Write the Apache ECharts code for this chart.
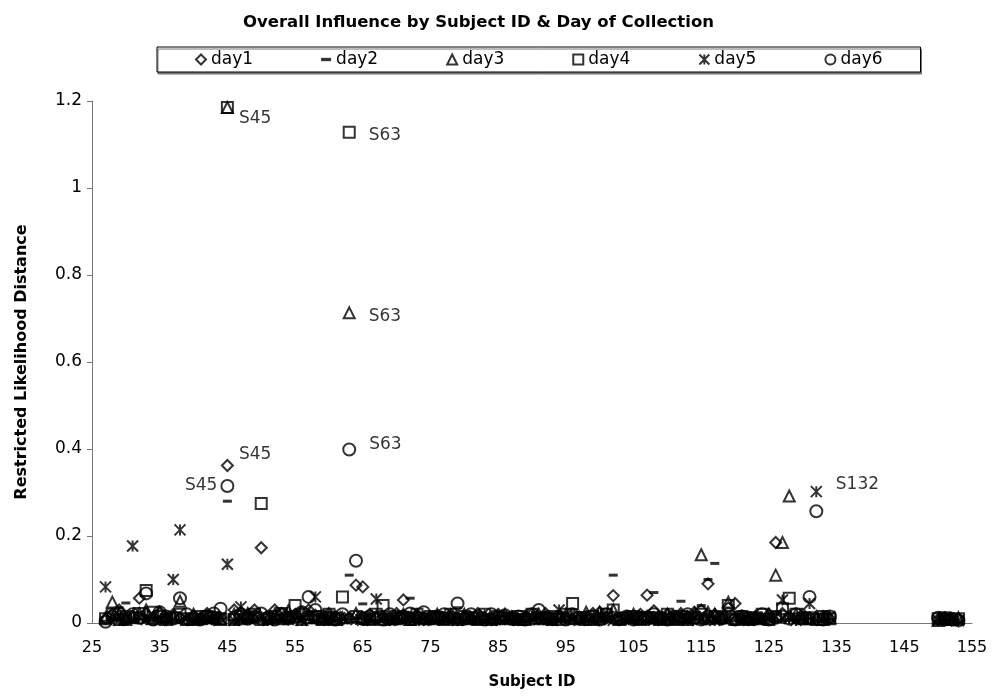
<!DOCTYPE html>
<html>
<head>
<meta charset="utf-8">
<script src="https://cdn.jsdelivr.net/npm/echarts@6/dist/echarts.min.js"></script>
<style>
  html, body { margin: 0; padding: 0; background: #fff; }
  #chart { width: 993px; height: 698px; }
</style>
</head>
<body>
<div id="chart"></div>
<script>
// subject ids on the x axis
const ids = [
  27, 28, 29, 30, 31, 32, 33, 34, 35, 36,
  37, 38, 39, 40, 41, 42, 43, 44, 45, 46,
  47, 48, 49, 50, 51, 52, 53, 54, 55, 56,
  57, 58, 59, 60, 61, 62, 63, 64, 65, 66,
  67, 68, 69, 70, 71, 72, 73, 74, 75, 76,
  77, 78, 79, 80, 81, 82, 83, 84, 85, 86,
  87, 88, 89, 90, 91, 92, 93, 94, 95, 96,
  97, 98, 99, 100, 101, 102, 103, 104, 105, 106,
  107, 108, 109, 110, 111, 112, 113, 114, 115, 116,
  117, 118, 119, 120, 121, 122, 123, 124, 125, 126,
  127, 128, 129, 130, 131, 132, 133, 134,
  150, 151, 152, 153
];

// restricted likelihood distance, one value per subject id
const day1 = [
  .01, .02, .03, .01, .015, .057, .022, .012, .025, .008,
  .02, .012, .008, .015, .01, .022, .008, .012, .362, .03,
  .025, .018, .03, .173, .015, .03, .022, .012, .02, .025,
  .03, .018, .01, .022, .015, .008, .012, .087, .083, .02,
  .01, .015, .008, .022, .053, .012, .02, .008, .015, .01,
  .012, .02, .008, .015, .01, .022, .012, .008, .02, .01,
  .015, .008, .012, .02, .01, .022, .008, .015, .012, .02,
  .01, .015, .022, .025, .012, .063, .008, .015, .01, .02,
  .064, .028, .012, .02, .01, .022, .015, .025, .03, .09,
  .02, .01, .035, .045, .012, .008, .015, .01, .02, .185,
  .022, .015, .01, .02, .012, .008, .015, .01,
  .008, .012, .006, .01
];
const day2 = [
  .004, .008, .035, .046, .006, .01, .004, .008, .012, .005,
  .006, .004, .01, .005, .008, .004, .006, .01, .28, .005,
  .008, .004, .006, .01, .005, .008, .004, .006, .01, .005,
  .008, .004, .012, .006, .005, .008, .11, .01, .044, .006,
  .004, .008, .006, .01, .005, .057, .004, .008, .006, .005,
  .008, .004, .035, .006, .005, .01, .004, .008, .006, .005,
  .004, .008, .006, .005, .01, .004, .008, .006, .005, .01,
  .006, .004, .008, .005, .01, .11, .004, .006, .008, .005,
  .006, .07, .004, .008, .005, .05, .006, .01, .04, .1,
  .137, .006, .01, .005, .008, .004, .006, .005, .01, .004,
  .006, .008, .004, .005, .01, .006, .004, .008,
  .005, .004, .006, .003
];
const day3 = [
  .012, .048, .02, .008, .015, .022, .03, .01, .025, .012,
  .015, .05, .008, .02, .01, .015, .012, .008, 1.185, .02,
  .01, .022, .015, .008, .012, .02, .01, .028, .015, .008,
  .02, .012, .01, .015, .008, .012, .713, .022, .012, .01,
  .015, .008, .012, .01, .02, .008, .015, .012, .01, .02,
  .008, .015, .012, .02, .01, .008, .015, .012, .01, .02,
  .012, .008, .015, .01, .02, .012, .008, .015, .02, .01,
  .012, .025, .008, .025, .015, .03, .01, .012, .02, .008,
  .015, .012, .01, .02, .008, .015, .012, .022, .157, .025,
  .02, .012, .048, .01, .015, .008, .012, .01, .02, .11,
  .185, .292, .02, .012, .01, .015, .008, .012,
  .006, .01, .008, .012
];
const day4 = [
  .01, .02, .008, .015, .012, .022, .075, .025, .015, .008,
  .012, .02, .01, .008, .015, .015, .012, .01, 1.185, .008,
  .015, .012, .02, .275, .01, .015, .022, .012, .04, .02,
  .012, .015, .008, .02, .01, .06, 1.128, .015, .012, .008,
  .02, .04, .01, .015, .012, .008, .02, .01, .015, .012,
  .01, .02, .008, .015, .012, .01, .02, .008, .015, .012,
  .01, .015, .008, .02, .012, .01, .015, .008, .02, .045,
  .012, .008, .015, .01, .02, .03, .008, .012, .015, .01,
  .012, .012, .008, .02, .01, .015, .008, .012, .02, .01,
  .015, .012, .04, .008, .015, .01, .012, .02, .008, .015,
  .033, .057, .02, .01, .012, .008, .015, .01,
  .01, .012, .008, .01
];
const day5 = [
  .083, .015, .006, .01, .177, .012, .008, .015, .006, .01,
  .1, .214, .01, .006, .012, .008, .015, .01, .135, .006,
  .037, .012, .008, .015, .006, .01, .012, .008, .015, .006,
  .012, .06, .008, .006, .015, .01, .012, .008, .006, .01,
  .055, .012, .006, .01, .015, .008, .012, .006, .01, .015,
  .008, .012, .006, .01, .015, .008, .012, .006, .01, .008,
  .012, .006, .01, .015, .008, .012, .006, .03, .01, .008,
  .006, .012, .01, .008, .015, .006, .01, .012, .008, .015,
  .01, .006, .012, .008, .015, .01, .006, .012, .008, .01,
  .006, .012, .01, .015, .008, .006, .012, .01, .008, .015,
  .053, .01, .006, .012, .045, .302, .012, .015,
  .006, .01, .008, .005
];
const day6 = [
  .003, .015, .022, .01, .02, .012, .068, .008, .025, .015,
  .01, .057, .02, .012, .008, .015, .022, .033, .315, .012,
  .02, .01, .015, .022, .012, .008, .02, .01, .015, .025,
  .06, .03, .015, .012, .008, .02, .399, .143, .01, .015,
  .012, .008, .02, .01, .015, .022, .012, .025, .01, .015,
  .02, .012, .045, .01, .02, .015, .008, .02, .012, .018,
  .01, .015, .008, .02, .03, .012, .01, .015, .008, .02,
  .012, .01, .015, .008, .02, .012, .01, .015, .008, .012,
  .01, .02, .012, .008, .015, .01, .02, .012, .008, .015,
  .012, .01, .02, .008, .015, .012, .01, .02, .008, .012,
  .015, .01, .02, .012, .06, .257, .008, .015,
  .012, .008, .01, .006
];

const dayNames = ['day1', 'day2', 'day3', 'day4', 'day5', 'day6'];
const dayValues = [day1, day2, day3, day4, day5, day6];

// subject labels: [day index, subject id, text]
const notes = [
  [3, 45, 'S45'],
  [3, 63, 'S63'],
  [2, 63, 'S63'],
  [5, 63, 'S63'],
  [0, 45, 'S45'],
  [5, 45, 'S45'],
  [4, 132, 'S132']
];
const noteStyle = [
  { position: 'right', distance: 5, offset: [0, 11] },
  { position: 'right', distance: 13, offset: [0, 3] },
  { position: 'right', distance: 13, offset: [0, 4] },
  { position: 'right', distance: 13, offset: [0, -5] },
  { position: 'right', distance: 5, offset: [0, -11] },
  { position: 'left', distance: 3, offset: [0, 0] },
  { position: 'right', distance: 13, offset: [0, -7] }
];

const symbols = [
  { symbol: 'diamond', size: 11, fill: 'transparent' },
  { symbol: 'rect', size: [9, 3], fill: '#000' },
  { symbol: 'triangle', size: 11, fill: 'transparent' },
  { symbol: 'rect', size: 11, fill: 'transparent' },
  { symbol: 'path://M0,0L10,10M10,0L0,10M5,0L5,10', size: 11, fill: 'transparent' },
  { symbol: 'circle', size: 12, fill: 'transparent' }
];

const font = 'DejaVu Sans';

const series = dayNames.map((name, d) => {
  const data = ids.map((id, i) => [id, dayValues[d][i]]);
  notes.forEach((n, k) => {
    if (n[0] !== d) return;
    const i = ids.indexOf(n[1]);
    data[i] = {
      value: data[i],
      label: Object.assign({
        show: true,
        formatter: n[2],
        color: '#000',
        fontFamily: font,
        fontSize: 17
      }, noteStyle[k])
    };
  });
  return {
    name: name,
    type: 'scatter',
    symbol: symbols[d].symbol,
    symbolSize: symbols[d].size,
    itemStyle: {
      color: symbols[d].fill,
      borderColor: '#000',
      borderWidth: d === 1 ? 0 : 2
    },
    emphasis: { disabled: true },
    data: data
  };
});

const chart = echarts.init(document.getElementById('chart'));
chart.setOption({
  animation: false,
  backgroundColor: '#fff',
  title: {
    text: 'Overall Influence by Subject ID & Day of Collection',
    left: 238,
    top: 9,
    textStyle: { fontFamily: font, fontSize: 16.5, fontWeight: 'bold', color: '#000' }
  },
  legend: {
    left: 157,
    top: 47,
    padding: [4, 38, 4, 38],
    itemGap: 68,
    itemWidth: 10,
    itemHeight: 10,
    borderColor: '#000',
    borderWidth: 1,
    backgroundColor: '#fff',
    shadowColor: '#777',
    shadowOffsetX: 1,
    shadowOffsetY: 2,
    textStyle: { fontFamily: font, fontSize: 17, color: '#000' },
    data: dayNames.map((name, d) => d === 1
      ? { name: name, icon: 'path://M0,0h9v3h-9z' }
      : { name: name })
  },
  grid: { left: 92, right: 21, top: 101, bottom: 75 },
  xAxis: {
    type: 'value',
    min: 25,
    max: 155,
    interval: 10,
    name: 'Subject ID',
    nameLocation: 'middle',
    nameGap: 52,
    nameTextStyle: { fontFamily: font, fontSize: 15, fontWeight: 'bold', color: '#000' },
    axisLine: { lineStyle: { color: '#777' } },
    axisTick: { show: false },
    splitLine: { show: false },
    axisLabel: { fontFamily: font, fontSize: 16, color: '#000', margin: 17 }
  },
  yAxis: {
    type: 'value',
    min: 0,
    max: 1.2,
    interval: 0.2,
    name: 'Restricted Likelihood Distance',
    nameLocation: 'middle',
    nameGap: 62,
    nameTextStyle: { fontFamily: font, fontSize: 16, fontWeight: 'bold', color: '#000' },
    axisLine: { show: true, lineStyle: { color: '#777' } },
    axisTick: { show: true, length: 5, lineStyle: { color: '#777' } },
    splitLine: { show: false },
    axisLabel: { fontFamily: font, fontSize: 17, color: '#000', margin: 10 }
  },
  series: series
});
</script>
</body>
</html>
